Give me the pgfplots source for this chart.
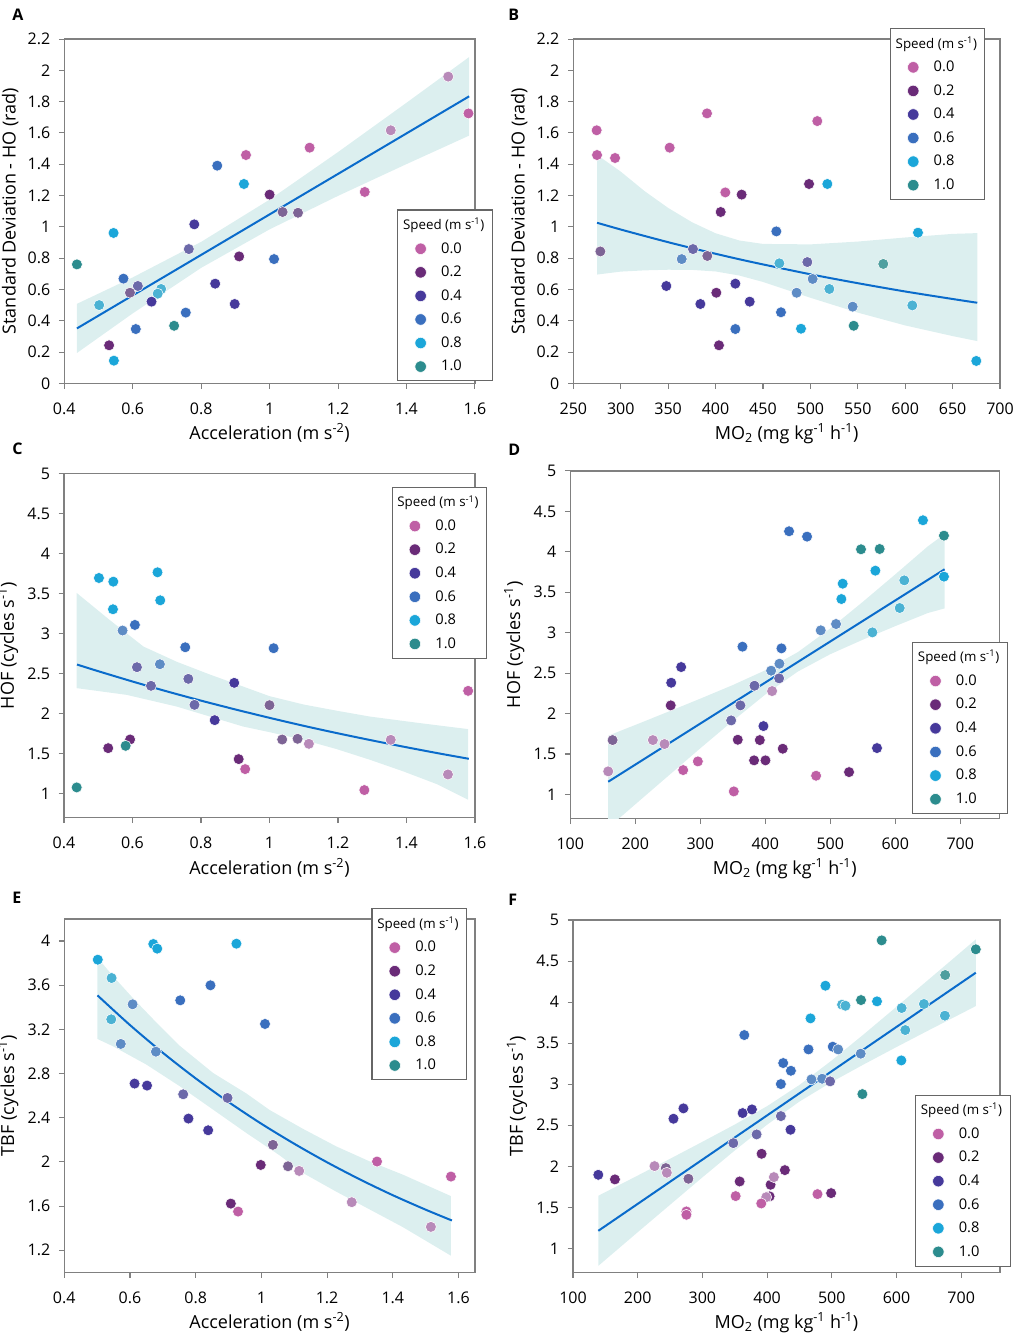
\documentclass[border=0pt]{standalone}
\usepackage{fontspec}
\setmainfont{Open Sans}
\usepackage{pgfplots}
\usepackage{pgfplotstable}
\pgfplotsset{compat=1.18}

\definecolor{c0}{HTML}{BF5FA5}
\definecolor{c0l}{HTML}{B88AB9}
\definecolor{c2}{HTML}{6A2B78}
\definecolor{c2l}{HTML}{7D6495}
\definecolor{c4}{HTML}{46399B}
\definecolor{c4l}{HTML}{6C69A9}
\definecolor{c6}{HTML}{3A6FBE}
\definecolor{c6l}{HTML}{5E8CC5}
\definecolor{c8}{HTML}{1BA6D9}
\definecolor{c8l}{HTML}{4BB2D3}
\definecolor{c10}{HTML}{2C8C8E}
\definecolor{c10l}{HTML}{4F9F9F}
\definecolor{bandc}{HTML}{DCEFEF}
\definecolor{fitc}{HTML}{0A6BCB}

% points: x y speed-class (l = lighter, overlapped dots)
\pgfplotstableread{
x y c
1.522 1.960 s0l
1.581 1.725 s0
1.354 1.617 s0l
1.117 1.506 s0
0.931 1.459 s0
1.278 1.223 s0
0.847 1.391 s6
0.925 1.274 s8
1.000 1.206 s2
1.038 1.095 s2l
1.083 1.090 s2l
0.780 1.016 s4
0.544 0.961 s8
0.764 0.858 s4l
0.437 0.760 s10
0.911 0.811 s2
1.013 0.794 s6
0.573 0.669 s6
0.615 0.622 s4l
0.592 0.579 s2l
0.683 0.603 s8l
0.673 0.573 s8l
0.841 0.637 s4
0.655 0.522 s4
0.502 0.500 s8l
0.898 0.507 s4
0.755 0.452 s6
0.609 0.347 s6
0.721 0.368 s10
0.531 0.243 s2
0.545 0.145 s8
}\tA

\pgfplotstableread{
x y c
274.6 1.617 s0
275.0 1.459 s0
294.0 1.440 s0
351.6 1.506 s0
391.0 1.725 s0
410.3 1.220 s0
507.3 1.676 s0
278.5 0.843 s2l
427.5 1.206 s2
405.4 1.095 s2
498.6 1.274 s2
400.8 0.579 s2
403.6 0.243 s2
376.2 0.858 s4l
391.3 0.814 s2l
364.3 0.794 s6l
348.1 0.622 s4
384.0 0.507 s4
420.9 0.637 s4
436.0 0.522 s4
464.1 0.971 s6
467.3 0.767 s8l
496.8 0.775 s4l
502.4 0.667 s6l
485.5 0.579 s6l
469.0 0.454 s6
420.9 0.347 s6
490.1 0.349 s8
517.9 1.274 s8
520.0 0.603 s8l
544.6 0.490 s6l
545.7 0.368 s10
576.9 0.763 s10l
613.5 0.963 s8
607.5 0.498 s8l
675.0 0.143 s8
}\tB

\pgfplotstableread{
x y c
0.502 3.697 s8
0.544 3.651 s8
0.673 3.768 s8
0.543 3.306 s8
0.681 3.418 s8
0.571 3.040 s6l
0.607 3.110 s6
0.754 2.831 s6
1.012 2.819 s6
0.613 2.582 s4l
0.680 2.619 s6l
0.654 2.349 s4l
0.763 2.436 s4l
0.897 2.386 s4
0.781 2.111 s4l
0.840 1.920 s4
1.000 2.107 s2l
1.037 1.678 s2l
1.082 1.687 s2l
1.115 1.624 s0l
1.354 1.674 s0l
1.580 2.286 s0
1.521 1.241 s0l
1.277 1.046 s0
0.929 1.308 s0
0.910 1.433 s2
0.593 1.678 s2
0.529 1.570 s2
0.580 1.599 s10
0.437 1.079 s10
}\tC

\pgfplotstableread{
x y c
436.6 4.254 s6
464.3 4.188 s6
642.6 4.390 s8
674.9 4.200 s10
547.3 4.031 s10
576.0 4.035 s10
569.4 3.767 s8
519.1 3.606 s8
517.1 3.416 s8
613.9 3.647 s8l
674.9 3.693 s8
606.8 3.305 s8l
564.8 3.004 s8l
508.9 3.107 s6l
485.3 3.029 s6l
364.9 2.827 s6
424.9 2.806 s6
421.8 2.616 s6l
409.0 2.530 s6l
421.3 2.435 s4l
383.4 2.344 s4l
361.8 2.101 s4l
410.5 2.278 s0l
347.5 1.915 s4l
397.2 1.845 s4
270.6 2.575 s4
255.3 2.381 s4
571.9 1.573 s4
254.5 2.101 s2
165.1 1.672 s2l
227.1 1.672 s0l
245.0 1.623 s0l
158.4 1.285 s0l
273.7 1.301 s0
296.3 1.408 s0
351.6 1.037 s0
478.2 1.231 s0
357.7 1.676 s2
391.6 1.672 s2
426.9 1.565 s2
382.8 1.421 s2
400.3 1.421 s2
528.9 1.276 s2
}\tD

\pgfplotstableread{
x y c
0.502 3.831 s8
0.544 3.665 s8l
0.671 3.973 s8
0.683 3.931 s8
0.924 3.976 s8
0.543 3.291 s8l
0.608 3.427 s6l
0.753 3.463 s6
0.845 3.599 s6
1.011 3.249 s6
0.572 3.068 s6l
0.679 2.998 s6l
0.614 2.709 s4
0.652 2.691 s4
0.762 2.612 s4l
0.897 2.579 s4l
0.778 2.392 s4
0.838 2.286 s4
1.035 2.154 s2l
0.998 1.972 s2
1.081 1.960 s2l
1.115 1.918 s0l
1.352 2.003 s0
1.577 1.867 s0
1.275 1.635 s0l
1.516 1.411 s0l
0.907 1.622 s2
0.929 1.550 s0
}\tE

\pgfplotstableread{
x y c
577.1 4.752 s10
722.6 4.643 s10
675.3 4.330 s10l
545.2 4.025 s10
547.3 2.880 s10
490.2 4.200 s8
515.9 3.969 s8l
521.1 3.956 s8l
569.9 4.009 s8
467.1 3.802 s8
608.0 3.928 s8l
642.4 3.977 s8l
674.8 3.835 s8l
613.6 3.660 s8l
607.5 3.290 s8
364.8 3.599 s6
464.0 3.424 s6
501.5 3.457 s6
509.8 3.424 s6l
544.7 3.372 s6l
424.9 3.258 s6
436.8 3.164 s6
421.3 3.002 s6
468.6 3.059 s6l
485.1 3.067 s6l
497.4 3.035 s4l
270.7 2.706 s4
255.3 2.580 s4
362.2 2.649 s4
376.6 2.693 s4
421.3 2.612 s4l
436.2 2.446 s4
383.8 2.389 s4l
347.8 2.283 s4l
139.1 1.897 s4
164.8 1.841 s2
243.5 1.979 s2l
226.0 2.003 s0l
245.0 1.922 s0l
278.4 1.849 s2l
391.5 2.153 s2
427.5 1.954 s2
357.6 1.816 s2
405.4 1.776 s2
403.9 1.634 s2
398.7 1.625 s0l
410.5 1.869 s0l
351.4 1.638 s0
391.0 1.548 s0
275.3 1.451 s0
275.3 1.410 s0
477.9 1.662 s0
499.0 1.674 s2
}\tF

\tikzset{sp/.style={mark=*, draw=white, fill=#1, line width=0.4pt}}
\pgfplotsset{
  pts/.style={scatter, only marks, mark size=4.1pt,
    scatter src=explicit symbolic,
    scatter/classes={s0={sp=c0}, s0l={sp=c0l}, s2={sp=c2}, s2l={sp=c2l},
      s4={sp=c4}, s4l={sp=c4l}, s6={sp=c6}, s6l={sp=c6l},
      s8={sp=c8}, s8l={sp=c8l}, s10={sp=c10}, s10l={sp=c10l}}},
  panel/.style={
    scale only axis, anchor=south west,
    axis line style={black!50, line width=1pt},
    tick align=outside, tick pos=left, major tick length=4pt,
    tick style={black!50, line width=0.8pt},
    ticklabel style={font=\fontsize{12}{14}\selectfont},
    xticklabel style={yshift=-7pt},
    yticklabel style={xshift=-3pt},
    label style={font=\fontsize{13.5}{16}\selectfont},
    /pgf/number format/assume math mode=true,
    legend cell align=left,
    legend style={draw=black!60, line width=0.8pt, fill=white,
      font=\fontsize{11}{13}\selectfont, anchor=north west,
      row sep=4.2pt, inner xsep=4pt, inner ysep=4pt},
  },
  band/.style={fill=bandc, draw=none, forget plot},
  fit/.style={fitc, line width=1.5pt, forget plot},
}

\newcommand\leg[2]{%
  \addlegendimage{legend image code/.code={\path[draw=none] (0,0) -- (0.93cm,0);
    \draw[sp=#1, mark size=4.3pt] plot coordinates {(0.46cm,0cm)};}}%
  \addlegendentry{#2}}
\newcommand\speedlegend{%
  \addlegendimage{empty legend}%
  \addlegendentry{\hspace*{-28.5pt}{\fontsize{10}{12}\selectfont Speed (m s\textsuperscript{-1})}}%
  \leg{c0}{0.0}\leg{c2}{0.2}\leg{c4}{0.4}\leg{c6}{0.6}\leg{c8}{0.8}\leg{c10}{1.0}}

\begin{document}
\begin{tikzpicture}
\path[use as bounding box] (0,0) rectangle (762.75pt,-1004.25pt);

\begin{axis}[panel, at={(48.2pt,-287.5pt)}, width=308pt, height=258.2pt,
  xmin=0.4, xmax=1.6, ymin=0, ymax=2.2,
  xtick={0.4,0.6,0.8,1,1.2,1.4,1.6},
  ytick={0,0.2,0.4,0.6,0.8,1,1.2,1.4,1.6,1.8,2,2.2},
  xlabel={Acceleration (m s\textsuperscript{-2})},
  ylabel={Standard Deviation - HO (rad)},
  legend style={at={(0.811,0.505)}}]
\addplot[band] coordinates {(0.437,0.508)(0.6,0.677)(0.8,0.904)(1.0,1.174)(1.2,1.478)(1.4,1.793)(1.583,2.085)
  (1.583,1.583)(1.4,1.401)(1.2,1.198)(1.0,0.984)(0.8,0.738)(0.6,0.447)(0.437,0.194)} --cycle;
\addplot[fit] coordinates {(0.437,0.351)(1.583,1.834)};
\addplot[pts, forget plot] table[meta=c] {\tA};
\speedlegend
\end{axis}

\begin{axis}[panel, at={(430pt,-287.5pt)}, width=320pt, height=258.2pt,
  xmin=250, xmax=700, ymin=0, ymax=2.2,
  xtick={250,300,350,400,450,500,550,600,650,700},
  ytick={0,0.2,0.4,0.6,0.8,1,1.2,1.4,1.6,1.8,2,2.2},
  xlabel={MO\textsubscript{2} (mg kg\textsuperscript{-1} h\textsuperscript{-1})},
  ylabel={Standard Deviation - HO (rad)},
  legend style={at={(0.742,1.032)}}]
\addplot[band] coordinates {(275,1.46)(300,1.353)(325,1.229)(350,1.121)(375,1.030)(400,0.959)(425,0.913)(450,0.891)(500,0.888)(550,0.906)(600,0.932)(650,0.955)(676,0.960)
  (676,0.270)(650,0.302)(600,0.370)(550,0.452)(500,0.547)(450,0.648)(425,0.689)(400,0.715)(375,0.725)(350,0.726)(325,0.722)(300,0.714)(275,0.695)} --cycle;
\addplot[fit, smooth] coordinates {(275,1.026)(300,0.983)(325,0.942)(350,0.902)(375,0.864)(400,0.828)(425,0.793)(450,0.760)(500,0.697)(550,0.640)(600,0.587)(650,0.539)(676,0.515)};
\addplot[pts, forget plot] table[meta=c] {\tB};
\speedlegend
\end{axis}

\begin{axis}[panel, at={(48pt,-613.3pt)}, width=308.25pt, height=258pt,
  xmin=0.4, xmax=1.6, ymin=0.7, ymax=5,
  xtick={0.4,0.6,0.8,1,1.2,1.4,1.6},
  ytick={1,1.5,2,2.5,3,3.5,4,4.5,5},
  xlabel={Acceleration (m s\textsuperscript{-2})},
  ylabel={HOF (cycles s\textsuperscript{-1})},
  legend style={at={(0.797,0.962)}}]
\addplot[band] coordinates {(0.437,3.51)(0.534,3.17)(0.632,2.84)(0.729,2.65)(0.826,2.49)(0.923,2.34)(1.0,2.22)(1.1,2.115)(1.2,2.035)(1.293,1.965)(1.439,1.883)(1.58,1.808)
  (1.58,0.925)(1.488,1.121)(1.391,1.279)(1.293,1.425)(1.196,1.558)(1.099,1.674)(1.0,1.77)(0.923,1.84)(0.826,1.965)(0.729,2.09)(0.583,2.236)(0.437,2.32)} --cycle;
\addplot[fit, smooth] coordinates {(0.438,2.615)(0.5,2.532)(0.6,2.403)(0.7,2.280)(0.8,2.164)(0.9,2.054)(1.0,1.949)(1.1,1.849)(1.2,1.755)(1.3,1.666)(1.4,1.581)(1.5,1.500)(1.582,1.437)};
\addplot[pts, forget plot] table[meta=c] {\tC};
\speedlegend
\end{axis}

\begin{axis}[panel, at={(427.7pt,-614pt)}, width=321.75pt, height=260.8pt,
  xmin=100, xmax=760, ymin=0.7, ymax=5,
  xtick={100,200,300,400,500,600,700},
  ytick={1,1.5,2,2.5,3,3.5,4,4.5,5},
  xlabel={MO\textsubscript{2} (mg kg\textsuperscript{-1} h\textsuperscript{-1})},
  ylabel={HOF (cycles s\textsuperscript{-1})},
  legend style={at={(0.797,0.509)}}]
\addplot[band] coordinates {(158.4,1.726)(200,1.859)(250,2.020)(300,2.184)(350,2.352)(400,2.535)(450,2.759)(500,3.052)(550,3.381)(600,3.721)(650,4.067)(675.9,4.22)
  (675.9,3.30)(650,3.243)(600,3.081)(550,2.913)(500,2.734)(450,2.519)(400,2.235)(350,1.909)(300,1.570)(250,1.224)(200,0.877)(158.4,0.588)} --cycle;
\addplot[fit] coordinates {(158.4,1.157)(675.9,3.784)};
\addplot[pts, forget plot] table[meta=c] {\tD};
\speedlegend
\end{axis}

\begin{axis}[panel, at={(48.2pt,-954.2pt)}, width=308pt, height=265pt,
  xmin=0.4, xmax=1.65, ymin=1.0, ymax=4.2,
  xtick={0.4,0.6,0.8,1,1.2,1.4,1.6},
  ytick={1.2,1.6,2,2.4,2.8,3.2,3.6,4},
  xlabel={Acceleration (m s\textsuperscript{-2})},
  ylabel={TBF (cycles s\textsuperscript{-1})},
  legend style={at={(0.748,1.030)}}]
\addplot[band] coordinates {(0.501,3.85)(0.549,3.68)(0.61,3.48)(0.681,3.26)(0.752,3.05)(0.853,2.805)(0.954,2.62)(1.025,2.47)(1.126,2.30)(1.228,2.14)(1.329,2.005)(1.43,1.885)(1.577,1.69)
  (1.577,1.15)(1.43,1.41)(1.329,1.57)(1.228,1.73)(1.126,1.90)(1.055,2.06)(0.954,2.262)(0.853,2.473)(0.752,2.684)(0.65,2.881)(0.549,3.046)(0.501,3.113)} --cycle;
\addplot[fit, smooth] coordinates {(0.501,3.508)(0.6,3.239)(0.7,2.988)(0.8,2.756)(0.9,2.542)(1.0,2.345)(1.1,2.164)(1.2,1.996)(1.3,1.841)(1.4,1.698)(1.5,1.567)(1.58,1.469)};
\addplot[pts, forget plot] table[meta=c] {\tE};
\speedlegend
\end{axis}

\begin{axis}[panel, at={(429.75pt,-954.2pt)}, width=320.25pt, height=264.2pt,
  xmin=100, xmax=760, ymin=0.71, ymax=5,
  xtick={100,200,300,400,500,600,700},
  ytick={1,1.5,2,2.5,3,3.5,4,4.5,5},
  xlabel={MO\textsubscript{2} (mg kg\textsuperscript{-1} h\textsuperscript{-1})},
  ylabel={TBF (cycles s\textsuperscript{-1})},
  legend style={at={(0.801,0.504)}}]
\addplot[band] coordinates {(139.1,1.642)(200,1.888)(250,2.092)(300,2.299)(350,2.509)(400,2.733)(450,2.991)(500,3.290)(550,3.612)(600,3.943)(650,4.277)(700,4.612)(722.6,4.764)
  (722.6,3.952)(700,3.860)(650,3.658)(600,3.453)(550,3.244)(500,3.028)(450,2.789)(400,2.507)(350,2.193)(300,1.866)(250,1.532)(200,1.198)(139.1,0.788)} --cycle;
\addplot[fit] coordinates {(139.1,1.215)(722.6,4.358)};
\addplot[pts, forget plot] table[meta=c] {\tF};
\speedlegend
\end{axis}

\begin{scope}[font=\bfseries\fontsize{12}{14}\selectfont]
\node[anchor=north west, inner sep=0pt] at (9pt,-6.5pt) {A};
\node[anchor=north west, inner sep=0pt] at (381pt,-6.5pt) {B};
\node[anchor=north west, inner sep=0pt] at (9pt,-332pt) {C};
\node[anchor=north west, inner sep=0pt] at (381pt,-333pt) {D};
\node[anchor=north west, inner sep=0pt] at (9pt,-669pt) {E};
\node[anchor=north west, inner sep=0pt] at (381pt,-670pt) {F};
\end{scope}
\end{tikzpicture}
\end{document}
